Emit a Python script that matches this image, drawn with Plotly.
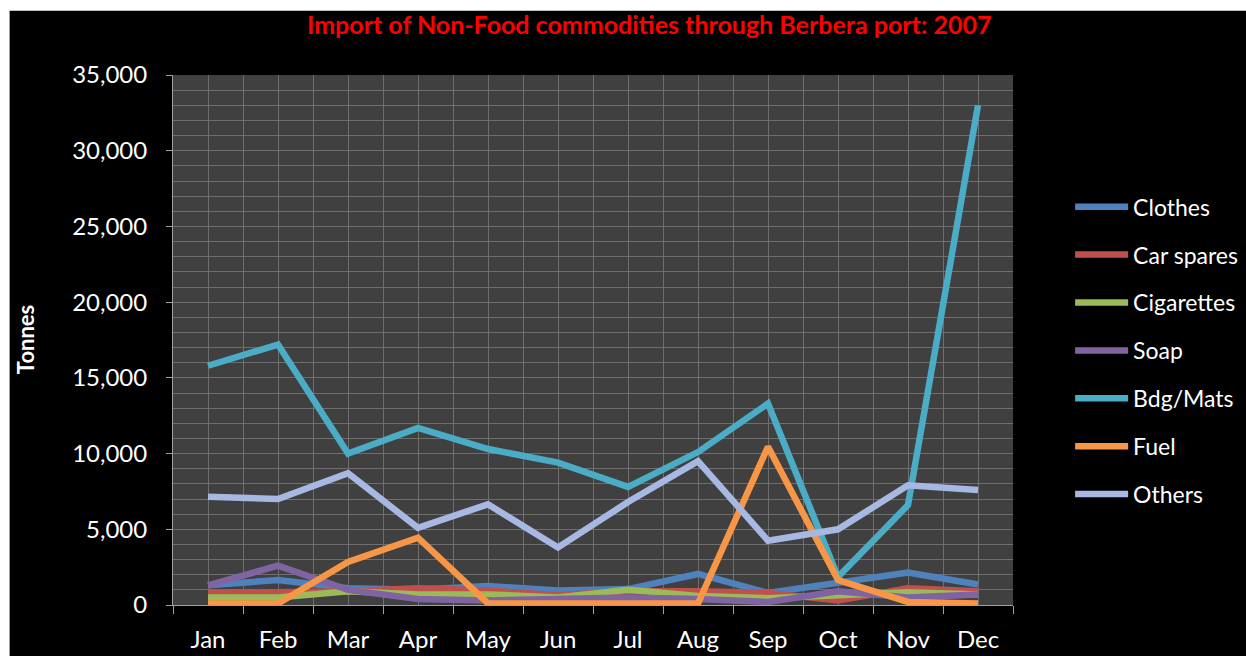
import plotly.graph_objects as go

months = ["Jan", "Feb", "Mar", "Apr", "May", "Jun", "Jul", "Aug", "Sep", "Oct", "Nov", "Dec"]

clothes = [1300, 1650, 1100, 1000, 1250, 950, 1050, 2050, 800, 1450, 2150, 1350]
car_spares = [800, 850, 900, 1100, 950, 650, 900, 900, 800, 300, 1100, 900]
cigarettes = [500, 500, 900, 700, 700, 500, 1000, 600, 450, 600, 850, 700]
soap = [1300, 2600, 1000, 400, 300, 400, 500, 400, 200, 900, 500, 700]
bdg_mats = [15800, 17200, 10000, 11700, 10300, 9400, 7800, 10100, 13300, 1850, 6600, 33000]
fuel = [100, 100, 2850, 4450, 100, 100, 150, 100, 10450, 1650, 200, 100]
others = [7150, 7000, 8700, 5100, 6650, 3800, 6800, 9500, 4250, 5000, 7900, 7600]

series = [
    ("Clothes", clothes, "#4F81BD"),
    ("Car spares", car_spares, "#C0504D"),
    ("Cigarettes", cigarettes, "#9BBB59"),
    ("Soap", soap, "#8064A2"),
    ("Bdg/Mats", bdg_mats, "#4BACC6"),
    ("Fuel", fuel, "#F79646"),
    ("Others", others, "#A7B9E3"),
]

x_pos = list(range(len(months)))
font_family = "Lato, 'Open Sans', sans-serif"

fig = go.Figure()
for name, values, color in series:
    fig.add_trace(go.Scatter(
        x=x_pos, y=values, name=name, mode="lines",
        line=dict(color=color, width=6.5),
        legendgroup=name,
    ))

fig.update_layout(
    width=1246, height=656,
    margin=dict(l=173, r=233, t=75, b=51, autoexpand=False),
    paper_bgcolor="black",
    plot_bgcolor="#404040",
    font=dict(family=font_family, color="white", size=22),
    title=dict(
        text="Import of Non-Food commodities through Berbera port: 2007",
        font=dict(family=font_family, color="#FF0000", size=25, weight="bold"),
        x=0.521, xanchor="center", xref="container",
        y=0.962, yanchor="middle", yref="container",
    ),
    showlegend=True,
    legend=dict(
        x=1.068, xanchor="left", y=0.792, yanchor="top",
        font=dict(size=23, color="white"),
        bgcolor="rgba(0,0,0,0)",
        itemwidth=53,
        tracegroupgap=15,
    ),
    annotations=[
        dict(text="<b>Tonnes</b>", xref="paper", yref="paper",
             x=-0.176, y=0.5, xanchor="center", yanchor="middle",
             textangle=-90, showarrow=False,
             font=dict(size=22, color="white")),
    ],
    shapes=[
        # white page strips along the top and left edges
        dict(type="rect", xref="paper", yref="paper",
             x0=-0.25, x1=1.3, y0=1.121, y1=1.2,
             fillcolor="white", line=dict(width=0), layer="above"),
        dict(type="rect", xref="paper", yref="paper",
             x0=-0.25, x1=-0.1945, y0=-0.2, y1=1.2,
             fillcolor="white", line=dict(width=0), layer="above"),
    ],
)

fig.update_xaxes(
    range=[-0.5, len(months) - 0.5],
    tickmode="array", tickvals=x_pos, ticktext=months,
    ticks="outside", ticklen=13, tickcolor="rgba(0,0,0,0)",
    tickfont=dict(size=24, color="white"),
    showgrid=True, gridcolor="#6E6E6E", gridwidth=1,
    minor=dict(tick0=-0.5, dtick=1, ticks="outside", ticklen=8,
               tickcolor="#A0A0A0", showgrid=True, gridcolor="#6E6E6E", gridwidth=1),
    showline=True, linecolor="#A0A0A0", linewidth=1,
    zeroline=False, fixedrange=True, automargin=False,
)

fig.update_yaxes(
    range=[0, 35000],
    tickmode="linear", tick0=0, dtick=5000, tickformat=",d",
    ticks="outside", ticklen=6, tickcolor="#A0A0A0",
    tickfont=dict(size=24, color="white"),
    ticklabelstandoff=14,
    showgrid=True, gridcolor="#6E6E6E", gridwidth=1,
    minor=dict(dtick=1000, showgrid=True, gridcolor="#6E6E6E", gridwidth=1),
    showline=True, linecolor="#A0A0A0", linewidth=1,
    zeroline=False, fixedrange=True, automargin=False,
)

fig.write_html("out.html")
